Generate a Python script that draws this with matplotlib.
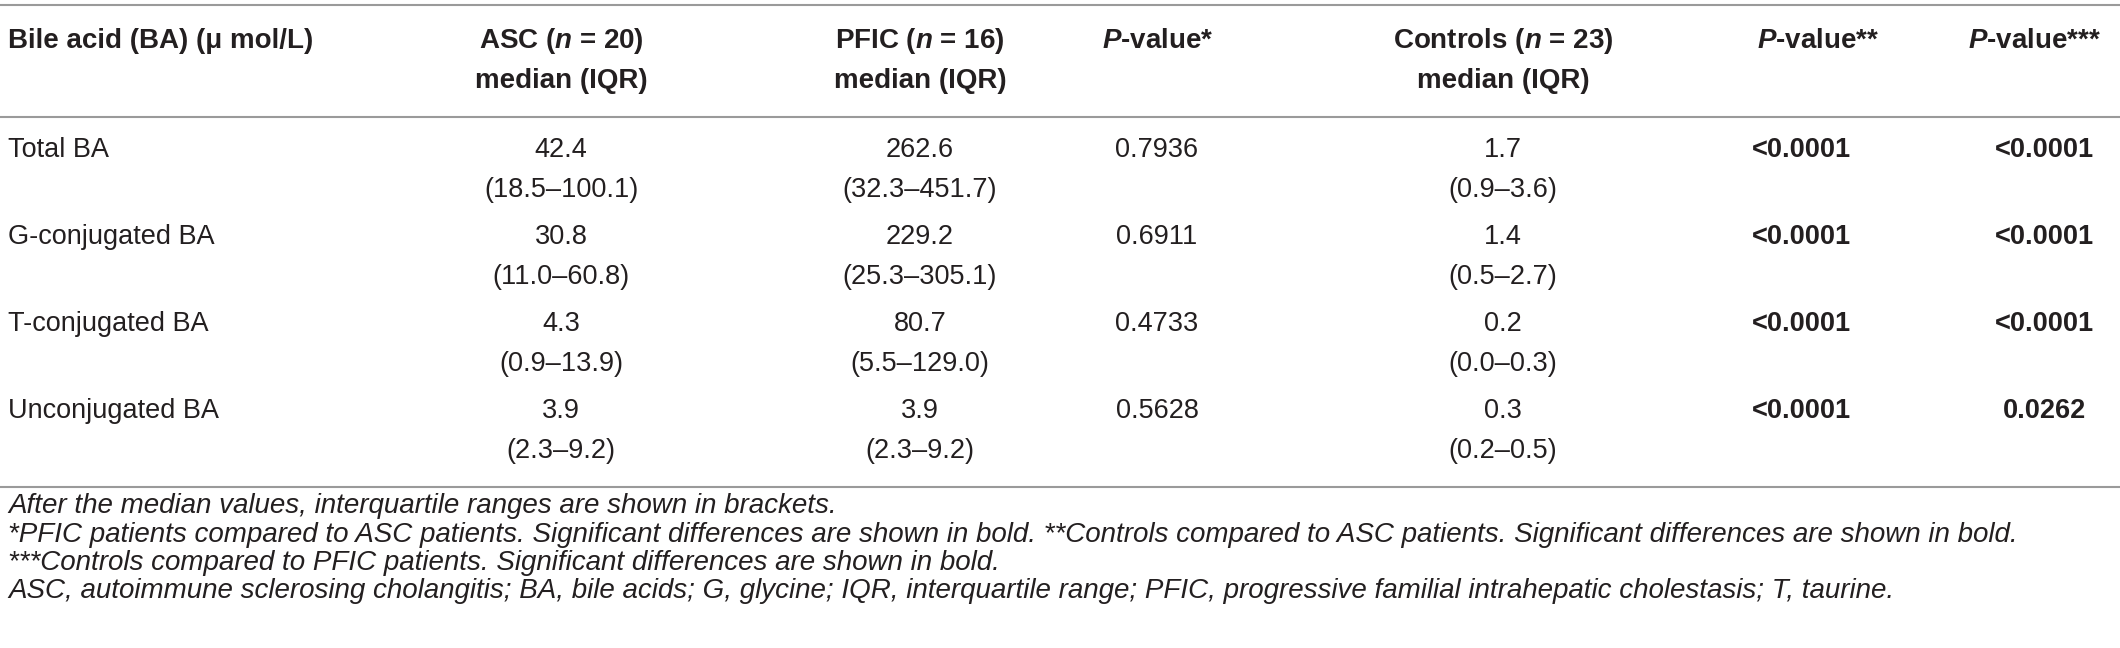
import matplotlib
matplotlib.use("Agg")
import matplotlib.pyplot as plt

plt.rcParams['font.family'] = ['Liberation Sans', 'DejaVu Sans']
plt.rcParams['mathtext.fontset'] = 'custom'
plt.rcParams['mathtext.rm'] = 'Liberation Sans'
plt.rcParams['mathtext.it'] = 'Liberation Sans:italic'
plt.rcParams['mathtext.bf'] = 'Liberation Sans:bold'
plt.rcParams['mathtext.bfit'] = 'Liberation Sans:italic:bold'

# table content
first_header = "Bile acid (BA) (\u03bc mol/L)"
group_headers = ["ASC ($\\mathbfit{n}$ = 20)", "PFIC ($\\mathbfit{n}$ = 16)", "Controls ($\\mathbfit{n}$ = 23)"]
p_headers = ["$\\mathbfit{P}$-value*", "$\\mathbfit{P}$-value**", "$\\mathbfit{P}$-value***"]
row_names = ["Total BA", "G-conjugated BA", "T-conjugated BA", "Unconjugated BA"]
asc_median = ["42.4", "30.8", "4.3", "3.9"]
asc_iqr = ["18.5\u2013100.1", "11.0\u201360.8", "0.9\u201313.9", "2.3\u20139.2"]
pfic_median = ["262.6", "229.2", "80.7", "3.9"]
pfic_iqr = ["32.3\u2013451.7", "25.3\u2013305.1", "5.5\u2013129.0", "2.3\u20139.2"]
p_pfic_asc = ["0.7936", "0.6911", "0.4733", "0.5628"]
ctrl_median = ["1.7", "1.4", "0.2", "0.3"]
ctrl_iqr = ["0.9\u20133.6", "0.5\u20132.7", "0.0\u20130.3", "0.2\u20130.5"]
p_ctrl_asc = ["<0.0001", "<0.0001", "<0.0001", "<0.0001"]
p_ctrl_pfic = ["<0.0001", "<0.0001", "<0.0001", "0.0262"]
footnotes = [
    "After the median values, interquartile ranges are shown in brackets.",
    "*PFIC patients compared to ASC patients. Significant differences are shown in bold. "
    "**Controls compared to ASC patients. Significant differences are shown in bold.",
    "***Controls compared to PFIC patients. Significant differences are shown in bold.",
    "ASC, autoimmune sclerosing cholangitis; BA, bile acids; G, glycine; IQR, interquartile range; "
    "PFIC, progressive familial intrahepatic cholestasis; T, taurine.",
]

W, H = 2120, 648
fig = plt.figure(figsize=(W / 100, H / 100), dpi=100)
ax = fig.add_axes([0, 0, 1, 1])
ax.set_xlim(0, W)
ax.set_ylim(H, 0)
ax.axis('off')

txt = '#231f20'
line_c = '#9a9a9a'
fs_head = 20
fs = 19.5
fs_note = 20

x_first = 8
x_groups = [561, 920, 1503]
x_p_head = [1158, 1818, 2035]
x_p_val = [1157, 1801, 2044]

for y in (5, 117, 487):
    ax.plot([0, W], [y, y], color=line_c, lw=1.5, solid_capstyle='butt')

# header
ax.text(x_first, 41, first_header, fontsize=fs_head, fontweight='bold', color=txt, va='center', ha='left')
for x, h in zip(x_groups, group_headers):
    ax.text(x, 41, h, fontsize=fs_head, fontweight='bold', color=txt, va='center', ha='center')
    ax.text(x, 81, "median (IQR)", fontsize=fs_head, fontweight='bold', color=txt, va='center', ha='center')
for x, h in zip(x_p_head, p_headers):
    ax.text(x, 41, h, fontsize=fs_head, fontweight='bold', color=txt, va='center', ha='center')

row_y = [150, 237, 324, 411]
kw = dict(fontsize=fs, color=txt, va='center', ha='center')
for r, y in enumerate(row_y):
    y2 = y + 40
    ax.text(x_first, y, row_names[r], fontsize=fs, color=txt, va='center', ha='left')
    ax.text(x_groups[0], y, asc_median[r], **kw)
    ax.text(x_groups[0], y2, "(" + asc_iqr[r] + ")", **kw)
    ax.text(x_groups[1], y, pfic_median[r], **kw)
    ax.text(x_groups[1], y2, "(" + pfic_iqr[r] + ")", **kw)
    ax.text(x_p_val[0], y, p_pfic_asc[r], **kw)
    ax.text(x_groups[2], y, ctrl_median[r], **kw)
    ax.text(x_groups[2], y2, "(" + ctrl_iqr[r] + ")", **kw)
    ax.text(x_p_val[1], y, p_ctrl_asc[r], fontweight='bold', **kw)
    ax.text(x_p_val[2], y, p_ctrl_pfic[r], fontweight='bold', **kw)

for note, y in zip(footnotes, [506, 535, 563, 591]):
    ax.text(x_first, y, note, fontsize=fs_note, fontstyle='italic', color=txt, va='center', ha='left')

fig.savefig("out.png", dpi=100)
